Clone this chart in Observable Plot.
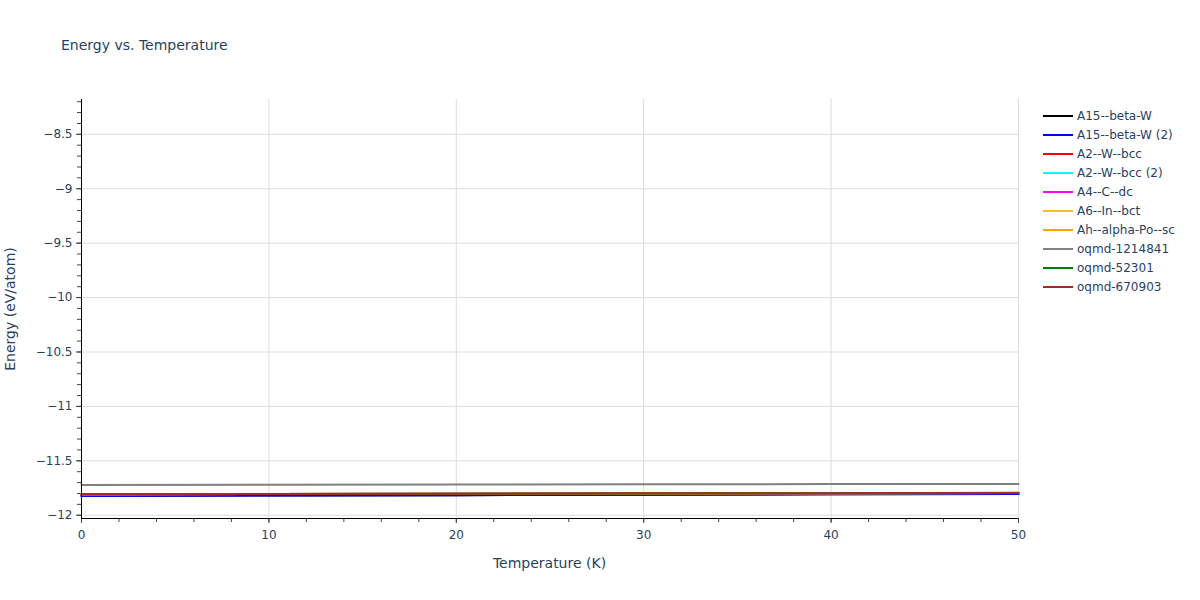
<!DOCTYPE html>
<html>
<head>
<meta charset="utf-8">
<script src="https://cdn.jsdelivr.net/npm/d3@7"></script>
<script src="https://cdn.jsdelivr.net/npm/@observablehq/plot@0.6"></script>
<style>
  body { margin: 0; background: #fff; font-family: "DejaVu Sans", sans-serif; }
  #wrap { position: relative; width: 1200px; height: 600px; }
  #wrap svg { position: absolute; left: 0; top: 0; }
  .ov { position: absolute; color: #2a3f5f; white-space: nowrap; line-height: 1; }
  #title { left: 61px; top: 38px; font-size: 14px; }
  #xlab { left: 0; width: 1099px; text-align: center; top: 556px; font-size: 14px; }
  #ylab { left: 10px; top: 309px; font-size: 14px; transform: translate(-50%, -50%) rotate(-90deg); }
  #legend { left: 1043px; top: 106px; font-size: 12px; }
  .li { height: 19px; display: flex; align-items: center; }
  .sw { width: 30px; height: 2px; margin-right: 4px; }
</style>
</head>
<body>
<div id="wrap">
  <div id="chart"></div>
  <div class="ov" id="title">Energy vs. Temperature</div>
  <div class="ov" id="xlab">Temperature (K)</div>
  <div class="ov" id="ylab">Energy (eV/atom)</div>
  <div class="ov" id="legend"></div>
</div>
<script>
const temperatures = [0, 10, 20, 30, 40, 50];
const seriesNames = ["A15--beta-W", "A15--beta-W (2)", "A2--W--bcc", "A2--W--bcc (2)", "A4--C--dc", "A6--In--bct", "Ah--alpha-Po--sc", "oqmd-1214841", "oqmd-52301", "oqmd-670903"];
const seriesColors = ["black", "blue", "red", "cyan", "magenta", "#f0c030", "orange", "gray", "green", "brown"];
const A15_beta_W      = [-11.823, -11.819, -11.816, -11.812, -11.808, -11.805];
const A15_beta_W_2    = [-11.823, -11.819, -11.816, -11.812, -11.808, -11.805];
const A2_W_bcc        = [-11.807, -11.805, -11.803, -11.800, -11.798, -11.795];
const A2_W_bcc_2      = [-11.807, -11.805, -11.803, -11.800, -11.798, -11.795];
const A4_C_dc         = [-11.807, -11.805, -11.803, -11.800, -11.798, -11.795];
const A6_In_bct       = [-11.807, -11.805, -11.803, -11.800, -11.798, -11.795];
const Ah_alpha_Po_sc  = [-11.807, -11.805, -11.803, -11.800, -11.798, -11.795];
const oqmd_1214841    = [-11.722, -11.720, -11.718, -11.716, -11.714, -11.712];
const oqmd_52301      = [-11.807, -11.805, -11.803, -11.800, -11.798, -11.795];
const oqmd_670903     = [-11.806, -11.804, -11.802, -11.799, -11.797, -11.794];
const seriesValues = [A15_beta_W, A15_beta_W_2, A2_W_bcc, A2_W_bcc_2, A4_C_dc, A6_In_bct, Ah_alpha_Po_sc, oqmd_1214841, oqmd_52301, oqmd_670903];

const xTicks = [0, 10, 20, 30, 40, 50];
const yTicks = [-8.5, -9, -9.5, -10, -10.5, -11, -11.5, -12];
const xDomain = [0, 50];
const yDomain = [-12.03, -8.18];
const xMinor = d3.range(0, 50.001, 2);
const yMinor = d3.range(-12, -8.18, 0.1).map(v => +v.toFixed(1));

const rows = [];
seriesNames.forEach((name, i) => {
  temperatures.forEach((t, j) => rows.push({series: name, idx: i, T: t, E: seriesValues[i][j]}));
});

const fmt = d3.format("~g");
const chart = Plot.plot({
  width: 1200,
  height: 600,
  marginLeft: 81,
  marginRight: 182,
  marginTop: 99,
  marginBottom: 82,
  style: {fontFamily: "'DejaVu Sans', sans-serif", fontSize: "12px", color: "#2a3f5f", background: "white"},
  x: {domain: xDomain},
  y: {domain: yDomain},
  marks: [
    Plot.gridX(xTicks.filter(d => d > 0), {stroke: "#dcdcdc", strokeOpacity: 1}),
    Plot.gridY(yTicks, {stroke: "#dcdcdc", strokeOpacity: 1}),
    Plot.axisX(xMinor, {tickSize: 4, tickFormat: () => "", label: null, stroke: "#444"}),
    Plot.axisX(xTicks, {tickSize: 5, tickPadding: 7, tickFormat: fmt, label: null, stroke: "#444", fill: "#2a3f5f"}),
    Plot.axisY(yMinor, {tickSize: 4, tickFormat: () => "", label: null, stroke: "#444"}),
    Plot.axisY(yTicks, {tickSize: 5, tickPadding: 4, tickFormat: fmt, label: null, stroke: "#444", fill: "#2a3f5f"}),
    Plot.line(rows, {x: "T", y: "E", z: "series", stroke: d => seriesColors[d.idx], strokeWidth: 2}),
    Plot.ruleX([xDomain[0]], {stroke: "black", strokeWidth: 1}),
    Plot.ruleY([yDomain[0]], {stroke: "black", strokeWidth: 1})
  ]
});
document.getElementById("chart").appendChild(chart);

const legend = document.getElementById("legend");
seriesNames.forEach((name, i) => {
  const row = document.createElement("div");
  row.className = "li";
  const sw = document.createElement("div");
  sw.className = "sw";
  sw.style.background = seriesColors[i];
  const tx = document.createElement("span");
  tx.textContent = name;
  row.appendChild(sw);
  row.appendChild(tx);
  legend.appendChild(row);
});
</script>
</body>
</html>
